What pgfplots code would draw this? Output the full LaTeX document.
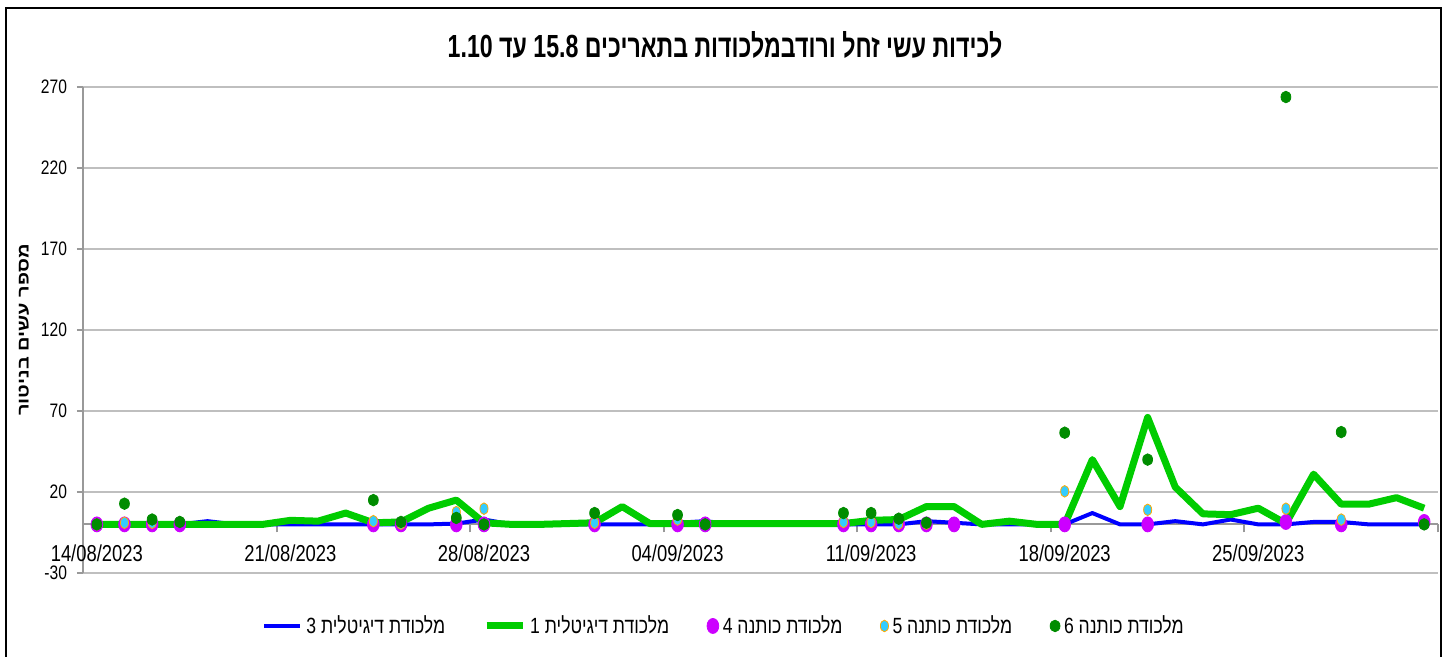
\documentclass[border=0pt]{standalone}
\usepackage{fontspec}
\usepackage{pgfplots}
\pgfplotsset{compat=1.18}
\TeXXeTstate=1
\setmainfont{Liberation Sans}[FakeStretch=0.8]
\newfontfamily\heb[Script=Hebrew, FakeStretch=0.8]{Liberation Sans}
\newfontfamily\hebn[Script=Hebrew]{Liberation Sans}
\definecolor{lblue}{RGB}{0,0,255}
\definecolor{lgreen}{RGB}{0,204,0}
\definecolor{cpink}{RGB}{204,0,255}
\definecolor{ccyan}{RGB}{51,204,255}
\definecolor{corange}{RGB}{255,170,0}
\definecolor{cdgreen}{RGB}{0,140,0}
\pgfplotsset{lineleg/.style={legend image code/.code={\draw[##1] (0pt,0pt) -- (18pt,0pt);}}}

\pgfplotstableread{
d v
0 0
1 0
2 1
3 0
4 2
5 0
6 0
7 0
8 0
9 0
10 0
11 0
12 0
13 0.5
14 3
15 0
16 0
17 0
18 0
19 0
20 0
21 1
22 2
23 0
24 0
25 0
26 0
27 0
28 0
29 0
30 2
31 1
32 0
33 0
34 0
35 0
36 7
37 0
38 0
39 2
40 0
41 3
42 0
43 0
44 1.5
45 1.5
46 0
47 0
48 0
}\digthree

\pgfplotstableread{
d v
0 0
1 0
2 0
3 0
4 0
5 0
6 0
7 2.5
8 2
9 7
10 1
11 1.5
12 10
13 15
14 1
15 0
16 0
17 0.5
18 1
19 11
20 0.5
21 0.5
22 0.5
23 0.5
24 0.5
25 0.5
26 0.5
27 0.5
28 2.5
29 3
30 11
31 11
32 0
33 2
34 0
35 0
36 40
37 11
38 66
39 23
40 6.5
41 6
42 10
43 0.5
44 31
45 12.5
46 12.5
47 16.5
48 10
}\digone

\pgfplotstableread{
d v
0 0
1 0
2 0
3 0
10 0
11 0
13 0
14 0
18 0
21 0
22 0
27 0
28 0
29 0
30 0
31 0
35 0
38 0
43 1.5
45 0
48 1.5
}\cotfour

\pgfplotstableread{
d v
0 0
1 1
2 1
10 2
11 0.5
13 7.6
14 9.7
18 1
21 3
27 1.5
28 1.5
29 0.5
30 0.5
35 20.4
38 9
43 9.7
45 3
}\cotfive

\pgfplotstableread{
d v
0 0
1 12.8
2 3
3 1.5
10 15
11 1.5
13 4
14 0
18 7
21 5.8
22 0
27 7
28 7
29 3.5
30 1
35 56.6
38 40
43 263.8
45 57
48 0
}\cotsix

\begin{document}
\begin{tikzpicture}
\useasboundingbox (0,0) rectangle (724.5pt,328.5pt);
\draw[line width=1.2pt] (3pt,-10pt) -- (3pt,324.5pt) -- (720.5pt,324.5pt) -- (720.5pt,-10pt);
\node[font=\heb\bfseries\fontsize{16}{19}\selectfont] at (362.5pt,306pt)
  {\scalebox{0.905}[1]{\beginR לכידות עשי זחל ורודבמלכודות בתאריכים \beginL15.8\endL{} עד \beginL1.10\endL\endR}};
\begin{axis}[
  at={(41.5pt,42pt)}, anchor=south west,
  scale only axis, width=677.5pt, height=243pt,
  xmin=-0.5, xmax=48.5, ymin=-30, ymax=270,
  axis x line=middle, axis y line=left,
  axis line style={-, draw=gray!80, line width=1pt},
  /pgf/number format/assume math mode=true,
  ytick={-30,20,70,120,170,220,270},
  ymajorgrids, grid style={gray!50, line width=1pt},
  y tick style={draw=gray!80, line width=1pt},
  ytick align=outside, major tick length=3pt,
  yticklabel style={font=\fontsize{9.75}{11}\selectfont, xshift=-1.5pt},
  xtick={0,7,14,21,28,35,42},
  xticklabels={14/08/2023,21/08/2023,28/08/2023,04/09/2023,11/09/2023,18/09/2023,25/09/2023},
  x tick style={draw=none},
  xticklabel style={font=\fontsize{11.5}{13}\selectfont, yshift=-5pt},
  extra x ticks={6.5,13.5,20.5,27.5,34.5,41.5,48.5},
  extra x tick labels={},
  extra x tick style={x tick style={draw=gray!80, line width=1pt}, xtick align=outside, major tick length=4pt},
  ylabel={\scalebox{1}[0.8]{\hebn\bfseries\beginR מספר עשים בניטור\endR}},
  every axis y label/.style={at={(axis description cs:0,0.5)}, xshift=-29.5pt, rotate=90, anchor=center, font=\fontsize{10}{12}\selectfont},
  legend columns=5,
  legend style={at={(axis description cs:0.4738,-0.109)}, anchor=center, draw=none, fill=none,
    font=\heb\fontsize{11}{13}\selectfont,
    /tikz/every even column/.append style={column sep=17pt}},
  clip=false,
]
\addplot[draw=lblue, line width=2pt, line join=round, no marks, lineleg] table[x=d,y=v] {\digthree};
\addlegendentry{\beginR מלכודת דיגיטלית 3\endR}
\addplot[draw=lgreen, line width=3.5pt, line join=round, no marks, lineleg] table[x=d,y=v] {\digone};
\addlegendentry{\beginR מלכודת דיגיטלית 1\endR}
\addplot[only marks, mark=*, mark size=3.75pt, mark options={xscale=0.78, draw=cpink, fill=cpink}] table[x=d,y=v] {\cotfour};
\addlegendentry{\beginR מלכודת כותנה 4\endR}
\addplot[only marks, mark=*, mark size=2.9pt, mark options={xscale=0.7, draw=corange, fill=ccyan, line width=0.4pt}] table[x=d,y=v] {\cotfive};
\addlegendentry{\beginR מלכודת כותנה 5\endR}
\addplot[only marks, mark=*, mark size=2.9pt, mark options={xscale=0.85, draw=cdgreen, fill=cdgreen}] table[x=d,y=v] {\cotsix};
\addlegendentry{\beginR מלכודת כותנה 6\endR}
\end{axis}
\end{tikzpicture}
\end{document}
